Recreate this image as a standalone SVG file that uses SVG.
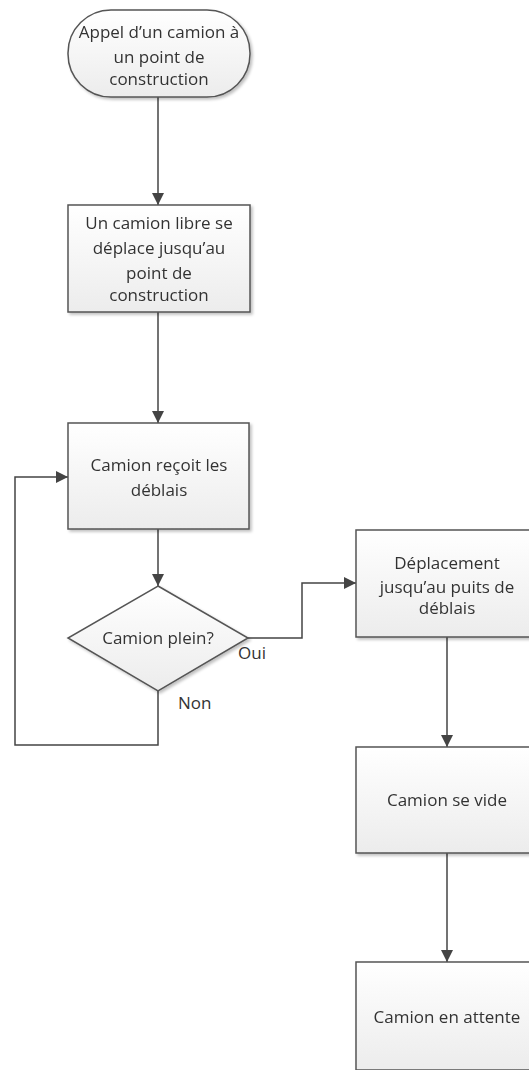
<svg xmlns="http://www.w3.org/2000/svg" width="529" height="1070" viewBox="0 0 529 1070">
<style>
.n{stroke:#555;stroke-width:1.5;fill:url(#g)}
.t{font-family:"Open Sans",Lato,sans-serif;font-size:17px;fill:#333;text-anchor:middle}
.l{font-family:"Open Sans",Lato,sans-serif;font-size:17px;fill:#333}
.c{fill:none;stroke:#444;stroke-width:1.5}
</style>
<defs>
<linearGradient id="g" x1="0" y1="0" x2="0" y2="1">
<stop offset="0" stop-color="#ffffff"/>
<stop offset="1" stop-color="#ececec"/>
</linearGradient>
<marker id="a" viewBox="0 0 12 12" refX="12" refY="6" markerWidth="12" markerHeight="12" markerUnits="userSpaceOnUse" orient="auto">
<path d="M0,0 L12,6 L0,12 Z" fill="#444"/>
</marker>
<filter id="s" x="-10%" y="-10%" width="130%" height="130%">
<feGaussianBlur in="SourceAlpha" stdDeviation="1.5"/>
<feOffset dx="2" dy="2"/>
<feComponentTransfer><feFuncA type="linear" slope="0.25"/></feComponentTransfer>
<feMerge><feMergeNode/><feMergeNode in="SourceGraphic"/></feMerge>
</filter>
</defs>
<g id="connectors">
<path class="c" d="M158,97 V205" marker-end="url(#a)"/>
<path class="c" d="M158,312 V423" marker-end="url(#a)"/>
<path class="c" d="M158,529 V586" marker-end="url(#a)"/>
<path class="c" d="M158,691 V745 H15 V477 H68" marker-end="url(#a)"/>
<path class="c" d="M248,638 H302 V583 H356" marker-end="url(#a)"/>
<path class="c" d="M447,637 V747" marker-end="url(#a)"/>
<path class="c" d="M447,853 V962" marker-end="url(#a)"/>
<text class="l" x="238" y="659">Oui</text>
<text class="l" x="178" y="709">Non</text>
</g>
<g id="n1" filter="url(#s)">
<rect class="n" x="68" y="10" width="182" height="87" rx="43" ry="43"/>
<text class="t" x="159" y="38">Appel d’un camion à</text>
<text class="t" x="159" y="63">un point de</text>
<text class="t" x="159" y="85">construction</text>
</g>
<g id="n2" filter="url(#s)">
<rect class="n" x="68" y="205" width="182" height="107"/>
<text class="t" x="159" y="229">Un camion libre se</text>
<text class="t" x="159" y="254">déplace jusqu’au</text>
<text class="t" x="159" y="279">point de</text>
<text class="t" x="159" y="301">construction</text>
</g>
<g id="n3" filter="url(#s)">
<rect class="n" x="68" y="423" width="181" height="106"/>
<text class="t" x="159" y="471">Camion reçoit les</text>
<text class="t" x="159" y="496">déblais</text>
</g>
<g id="n4" filter="url(#s)">
<path class="n" d="M158,586 L248,638 L158,691 L68,638 Z"/>
<text class="t" x="158" y="644">Camion plein?</text>
</g>
<g id="n5" filter="url(#s)">
<rect class="n" x="356" y="530" width="182" height="107"/>
<text class="t" x="447" y="569">Déplacement</text>
<text class="t" x="447" y="593">jusqu’au puits de</text>
<text class="t" x="447" y="614">déblais</text>
</g>
<g id="n6" filter="url(#s)">
<rect class="n" x="356" y="747" width="182" height="106"/>
<text class="t" x="447" y="806">Camion se vide</text>
</g>
<g id="n7" filter="url(#s)">
<rect class="n" x="356" y="962" width="182" height="108"/>
<text class="t" x="447" y="1023">Camion en attente</text>
</g>
</svg>
